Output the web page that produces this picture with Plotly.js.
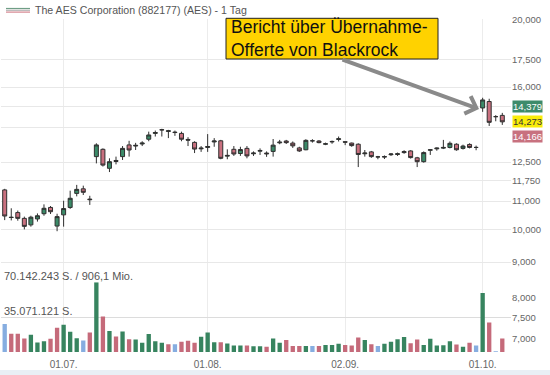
<!DOCTYPE html>
<html><head><meta charset="utf-8">
<script src="https://cdn.plot.ly/plotly-3.0.1.min.js"></script>
<style>html,body{margin:0;padding:0;background:#fff}#chart{width:550px;height:375px}</style>
</head><body><div id="chart"></div>
<script>
const dates = [
'2025-06-17','2025-06-18','2025-06-20','2025-06-23','2025-06-24','2025-06-25','2025-06-26','2025-06-27','2025-06-30',
'2025-07-01','2025-07-02','2025-07-03','2025-07-07','2025-07-08','2025-07-09','2025-07-10','2025-07-11',
'2025-07-14','2025-07-15','2025-07-16','2025-07-17','2025-07-18','2025-07-21','2025-07-22','2025-07-23','2025-07-24','2025-07-25',
'2025-07-28','2025-07-29','2025-07-30','2025-07-31',
'2025-08-01','2025-08-04','2025-08-05','2025-08-06','2025-08-07','2025-08-08','2025-08-11','2025-08-12','2025-08-13','2025-08-14','2025-08-15',
'2025-08-18','2025-08-19','2025-08-20','2025-08-21','2025-08-22','2025-08-25','2025-08-26','2025-08-27','2025-08-28','2025-08-29',
'2025-09-02','2025-09-03','2025-09-04','2025-09-05','2025-09-08','2025-09-09','2025-09-10','2025-09-11','2025-09-12',
'2025-09-15','2025-09-16','2025-09-17','2025-09-18','2025-09-19','2025-09-22','2025-09-23','2025-09-24','2025-09-25','2025-09-26',
'2025-09-29','2025-09-30','2025-10-01','2025-10-02','2025-10-03','2025-10-06'];
const open = [11.41,10.43,10.59,10.39,10.17,10.37,10.55,10.77,10.13,10.51,10.77,11.28,11.45,11.07,12.73,13.04,12.25,12.57,12.73,13.23,
13.18,13.27,13.48,13.74,13.91,13.83,13.80,13.74,13.47,13.34,13.06,13.12,13.36,13.41,12.75,13.04,12.86,13.08,12.85,12.96,
12.88,12.95,13.32,13.40,13.31,13.10,13.02,13.41,13.40,13.26,13.36,13.47,13.37,13.31,13.26,12.85,12.93,12.72,12.71,12.81,
12.82,12.90,12.97,12.68,12.52,13.00,13.06,13.09,13.12,13.26,13.08,13.25,13.12,14.94,15.26,14.52,14.58];
const high = [11.45,10.74,10.66,10.45,10.48,10.56,10.88,10.82,10.55,11.01,11.38,11.60,11.57,11.19,13.30,13.08,12.66,12.73,13.18,13.41,
13.32,13.39,13.82,13.87,13.95,13.90,13.87,13.82,13.57,13.39,13.18,13.71,13.53,13.45,13.04,13.18,13.15,13.18,12.95,13.08,
12.95,13.49,13.45,13.45,13.38,13.15,13.48,13.48,13.44,13.33,13.42,13.60,13.37,13.33,13.30,13.01,12.97,12.76,12.78,12.88,
12.90,13.00,13.00,12.72,12.95,13.03,13.12,13.45,13.38,13.30,13.24,13.30,13.20,15.45,15.40,14.59,14.70];
const low = [10.33,10.32,10.31,10.02,10.11,10.28,10.48,10.54,9.96,10.11,10.72,11.17,11.22,10.86,12.45,12.32,12.10,12.41,12.59,12.73,
13.01,13.18,13.39,13.60,13.60,13.53,13.63,13.39,13.18,12.88,12.93,12.93,13.15,12.62,12.62,12.76,12.76,12.66,12.76,12.80,
12.72,12.73,13.26,13.27,13.10,12.93,13.00,13.33,13.30,13.22,13.28,13.38,13.22,13.15,12.30,12.73,12.68,12.62,12.63,12.76,
12.76,12.85,12.65,12.30,12.48,12.80,12.98,13.05,13.08,12.98,13.03,13.08,13.00,14.75,14.08,14.30,14.13];
const close = [10.47,10.42,10.39,10.12,10.43,10.48,10.74,10.62,10.45,10.73,11.10,11.43,11.32,11.05,13.23,12.38,12.52,12.53,13.08,13.01,
13.21,13.31,13.67,13.78,13.90,13.86,13.78,13.48,13.44,13.05,13.09,13.16,13.40,12.66,12.78,12.84,13.03,12.76,12.88,12.99,
12.85,13.22,13.35,13.33,13.19,12.97,13.43,13.41,13.33,13.28,13.38,13.50,13.35,13.20,12.82,12.88,12.73,12.72,12.73,12.84,
12.85,12.94,12.69,12.52,12.90,13.02,13.09,13.12,13.30,13.02,13.18,13.12,13.12,15.34,14.25,14.52,14.273];
const volume = [28200000,18400000,18400000,13600000,17300000,9500000,10900000,13300000,24500000,27500000,
20400000,13900000,11600000,19700000,70142243,35700000,21100000,15600000,20700000,12900000,
12600000,9200000,18000000,10900000,9200000,7800000,7800000,10200000,11200000,9200000,
15300000,19700000,9900000,9900000,8500000,6500000,6500000,6500000,5800000,5800000,
5400000,13600000,9200000,12200000,6100000,6100000,6100000,6100000,6100000,7100000,
7100000,8200000,7100000,6500000,14600000,12200000,7800000,6100000,8200000,10200000,
12900000,15000000,8800000,12600000,7100000,13300000,6500000,6800000,10900000,7500000,
5400000,9200000,6500000,59500000,29600000,700000,13600000];
const volDir = ['n','d','d','d','u','u','u','d','d','u','u','u','n','d','u','d','u','d','u','d',
'u','u','u','u','u','d','n','d','d','d','u','u','u','d','u','u','u','d','u','u',
'd','u','u','d','d','d','u','n','d','u','u','u','d','d','d','u','d','n','u','u',
'u','u','d','d','u','u','u','u','u','d','u','d','n','u','d','n','d'];
const tickDates = ['2025-07-01','2025-08-01','2025-09-02','2025-10-01'];
const tickLabels = ['01.07.','01.08.','02.09.','01.10.'];
const priceTicks = [20,17.5,16,15,14,12.5,11.75,11,10,9,8,7.5,7];
const priceTickLabels = ['20,000','17,500','16,000','','','12,500','11,750','11,000','10,000','9,000','8,000','7,500','7,000'];
const volTicks = [35071121, 70142243];
const volTickLabels = ['35.071.121 S.', '70.142.243 S. / 906,1 Mio.'];
const quoteValues = [14.379, 14.273, 14.166];
const quoteLabels = ['14,379','14,273','14,166'];
const chartTitle = 'The AES Corporation (882177) (AES) - 1 Tag';
const noteLines = ['Bericht über Übernahme-', 'Offerte von Blackrock'];

const FONT = 'Liberation Sans, Arial, sans-serif';
const UP = '#3b8a68', DOWN = '#c9707f', NEUTRAL = '#86ade0';
const volColors = volDir.map(d => d === 'u' ? '#37845f' : d === 'd' ? '#c56a7a' : NEUTRAL);

// plot area: x 1..511, y 19..352
const py = v => (352 - v) / 333;
const px = v => (v - 1) / 510;
const volFrac = 0.20931;

const traces = [
  {type:'scatter', x:[dates[0]], y:[10], xaxis:'x', yaxis:'y', mode:'markers',
   marker:{opacity:0}, hoverinfo:'skip', showlegend:false},
  {type:'bar', x:dates, y:volume, xaxis:'x', yaxis:'y2', marker:{color:volColors, line:{width:0}},
   hoverinfo:'skip', showlegend:false},
  {type:'candlestick', x:dates, open:open, high:high, low:low, close:close, xaxis:'x', yaxis:'y3',
   increasing:{line:{color:'#2f2f2f', width:1}, fillcolor:UP},
   decreasing:{line:{color:'#2f2f2f', width:1}, fillcolor:DOWN},
   whiskerwidth:0, hoverinfo:'skip', showlegend:false}
];

const annotations = [];
volTicks.forEach((v,i) => annotations.push({xref:'paper', yref:'y2', x:0, y:v, xanchor:'left', yanchor:'bottom',
  xshift:1, yshift:-2, text:volTickLabels[i], showarrow:false, font:{family:FONT, size:11, color:'#555'}}));
const qBg = ['#3d8b6b','#f9ec0a','#c8717f'], qFg = ['#ffffff','#333333','#ffffff'], qShift = [13.5, 0, -12.5];
quoteValues.forEach((v,i) => annotations.push({xref:'paper', yref:'y3', x:1, y:Math.log10(v), xanchor:'left', yanchor:'middle',
  xshift:1, yshift:qShift[i], text:quoteLabels[i], showarrow:false, bgcolor:qBg[i], borderpad:0,
  font:{family:FONT, size:9.5, color:qFg[i]}}));
annotations.push({xref:'paper', yref:'paper', x:px(33), y:py(10.3), xanchor:'left', yanchor:'middle',
  text:chartTitle, showarrow:false, font:{family:FONT, size:10.6, color:'#555'}});
annotations.push({xref:'paper', yref:'paper', x:px(229), y:py(38.3), xanchor:'left', yanchor:'middle', align:'left',
  text:noteLines.join('<br>'), showarrow:false, font:{family:FONT, size:17.5, color:'#111'}});
annotations.push({xref:'paper', yref:'paper', x:px(479), y:py(109), ax:-138, ay:-50, text:'', showarrow:true,
  arrowhead:4, arrowsize:0.9, arrowwidth:4, arrowcolor:'#8a8a8a', standoff:0});

const shapes = [
  {type:'rect', xref:'paper', yref:'paper', x0:px(-2), x1:px(552), y0:py(370), y1:py(380), fillcolor:'#e9eff5', line:{width:0}, layer:'below'},
  {type:'rect', xref:'paper', yref:'paper', x0:px(226), x1:px(438), y0:py(59), y1:py(18.3), fillcolor:'#ffd200', line:{color:'#222', width:1}},
  {type:'line', xref:'paper', yref:'paper', x0:px(6), x1:px(30), y0:py(8.5), y1:py(8.5), line:{color:'#6f9e86', width:1.2}},
  {type:'line', xref:'paper', yref:'paper', x0:px(6), x1:px(30), y0:py(10.3), y1:py(10.3), line:{color:'#b5b5b5', width:1.2}},
  {type:'line', xref:'paper', yref:'paper', x0:px(6), x1:px(30), y0:py(12.1), y1:py(12.1), line:{color:'#d4848f', width:1.2}}
];

const layout = {
  width:550, height:375, margin:{l:1, r:39, t:19, b:23},
  paper_bgcolor:'#ffffff', plot_bgcolor:'rgba(0,0,0,0)',
  font:{family:FONT, size:10, color:'#666'},
  showlegend:false, bargap:0.34, boxgap:0.39, boxgroupgap:0,
  xaxis:{type:'category', anchor:'y2', range:[-0.565, 77.33], tickmode:'array', tickvals:tickDates, ticktext:tickLabels,
    showgrid:true, gridcolor:'#ececec', gridwidth:1, ticks:'', showline:false, zeroline:false, ticklabelstandoff:5,
    tickfont:{family:FONT, size:10, color:'#666'}, rangeslider:{visible:false}, fixedrange:true},
  yaxis:{type:'log', domain:[0,1], range:[0.82568, 1.30146], side:'right', anchor:'x', tickmode:'array',
    tickvals:priceTicks, ticktext:priceTickLabels, showgrid:false, zeroline:false, ticks:'', showline:false,
    tickfont:{family:FONT, size:9.5, color:'#666'}, fixedrange:true},
  yaxis2:{domain:[0, volFrac], range:[0, volTicks[1]], anchor:'x', tickmode:'array', tickvals:volTicks,
    showticklabels:false, showgrid:true, gridcolor:'#dcdcdc', zeroline:false, ticks:'', showline:false, fixedrange:true},
  yaxis3:{type:'log', domain:[volFrac, 1], range:[0.92526, 1.30146], anchor:'x', tickmode:'array', tickvals:priceTicks,
    showticklabels:false, showgrid:true, gridcolor:'#e8e8e8', zeroline:false, ticks:'', showline:false, fixedrange:true},
  annotations:annotations, shapes:shapes
};

Plotly.newPlot('chart', traces, layout, {displayModeBar:false, staticPlot:true});
</script>
</body></html>
